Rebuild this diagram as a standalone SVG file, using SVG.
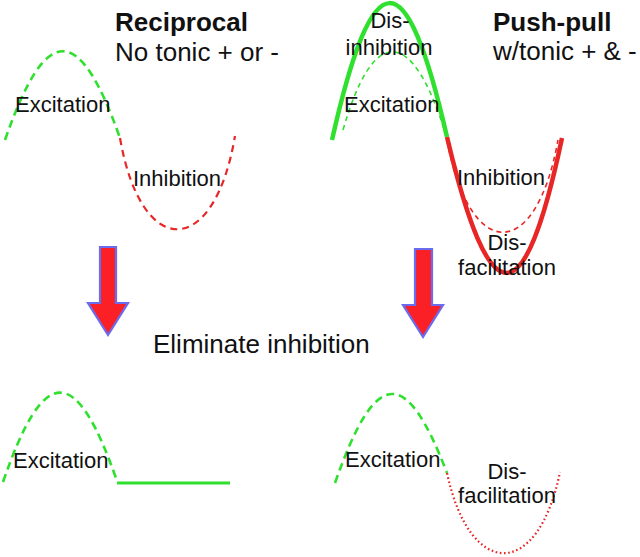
<svg xmlns="http://www.w3.org/2000/svg" width="640" height="557" viewBox="0 0 640 557">
<style>
text{font-family:"Liberation Sans",Arial,sans-serif;fill:#111}
.lbl{font-size:22px}
.title{font-size:26px;font-weight:bold}
.sub{font-size:26px}
.mid{font-size:26px}
.c{text-anchor:middle}
.gd{fill:none;stroke:#2fe02f;stroke-width:2.6;stroke-dasharray:8 5}
.rd{fill:none;stroke:#e82626;stroke-width:2.2;stroke-dasharray:7 5}
.gdt{fill:none;stroke:#2fe02f;stroke-width:1.6;stroke-dasharray:5 4}
.rdt{fill:none;stroke:#e82626;stroke-width:1.6;stroke-dasharray:5 4}
.gs{fill:none;stroke:#2fe02f;stroke-width:4.5}
.rs{fill:none;stroke:#e82626;stroke-width:4.5}
.rdot{fill:none;stroke:#e82626;stroke-width:2.2;stroke-dasharray:1.6 2.6}
.arrow{fill:#fb2026;stroke:#6a6cf0;stroke-width:2.2;stroke-linejoin:miter}
</style>
<g id="reciprocal-top">
<path class="gd" d="M5,140 C46,22 79,22 120,138"/>
<path class="rd" d="M120,138 C141,260 214,260 235,136"/>
<text class="title" x="115" y="31">Reciprocal</text>
<text class="sub" x="115" y="61">No tonic + or -</text>
<text class="lbl" x="15" y="112">Excitation</text>
<text class="lbl" x="133" y="186">Inhibition</text>
</g>
<g id="pushpull-top">
<path class="gdt" d="M343,130 C373,25 412,25 446,135"/>
<path class="rdt" d="M447,140 C470,263 536,263 558,140"/>
<path class="gs" d="M332,140 C373,-42 406,-42 447,137"/>
<path class="rs" d="M447,137 C490,318 524,318 562,138"/>
<text class="title" x="493" y="31">Push-pull</text>
<text class="sub" x="493" y="60">w/tonic + &amp; -</text>
<text class="lbl c" x="390" y="28">Dis-</text>
<text class="lbl c" x="389" y="55">inhibition</text>
<text class="lbl" x="344" y="112">Excitation</text>
<text class="lbl" x="457" y="185">Inhibition</text>
<text class="lbl c" x="507" y="250">Dis-</text>
<text class="lbl c" x="507" y="275">facilitation</text>
</g>
<g id="connectors">
<path class="arrow" d="M100,247 L116,247 L116,303 L128,303 L108,335 L88,303 L100,303 Z"/>
<path class="arrow" d="M415,249 L432,249 L432,305 L443,305 L423,337 L403,305 L415,305 Z"/>
</g>
<g id="label-eliminate">
<text class="mid" x="153" y="353">Eliminate inhibition</text>
</g>
<g id="reciprocal-bottom">
<path class="gd" d="M3,482 C44,363 76,363 117,481"/>
<path class="gs" style="stroke-width:3" d="M117,483 L230,483"/>
<text class="lbl" x="13" y="468">Excitation</text>
</g>
<g id="pushpull-bottom">
<path class="gd" d="M335,483 C376,366 406,366 447,473"/>
<path class="rdot" d="M447,473 C470,580 538,580 560,472"/>
<text class="lbl" x="345" y="467">Excitation</text>
<text class="lbl c" x="507" y="479">Dis-</text>
<text class="lbl c" x="507" y="503">facilitation</text>
</g>
</svg>
